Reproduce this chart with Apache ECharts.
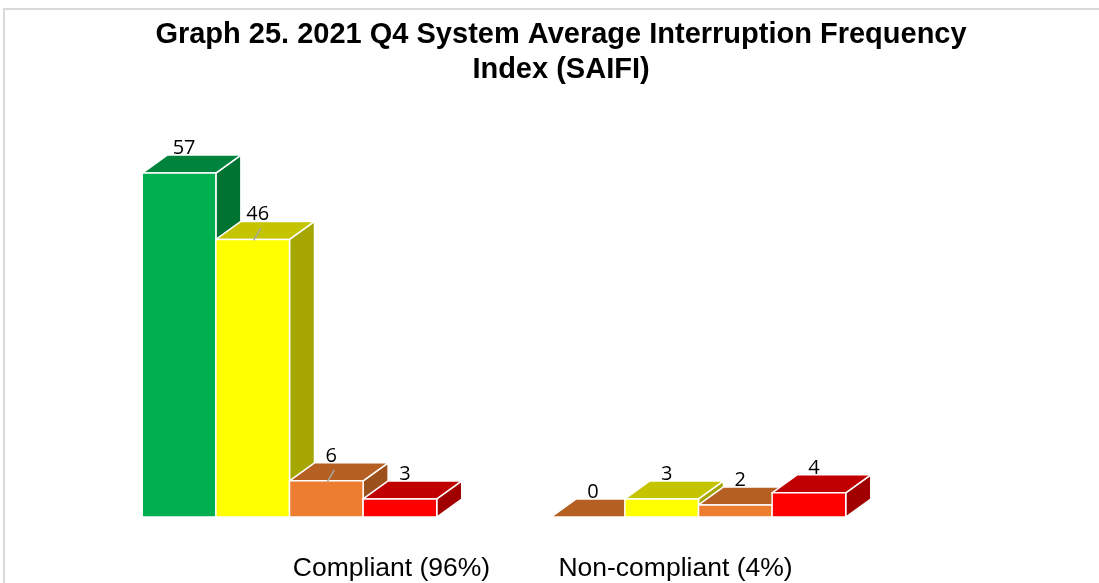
<!DOCTYPE html>
<html>
<head>
<meta charset="utf-8">
<script src="https://cdn.jsdelivr.net/npm/echarts@6/dist/echarts.min.js"></script>
<style>
  html, body { margin: 0; padding: 0; background: #fff; }
  #chart { width: 1099px; height: 583px; }
</style>
</head>
<body>
<div id="chart"></div>
<script>
// Chart data
var categories = ['Compliant (96%)', 'Non-compliant (4%)'];
var greenValues = [57, 0];
var yellowValues = [46, 3];
var orangeValues = [6, 2];
var redValues = [3, 4];
var seriesValues = [greenValues, yellowValues, orangeValues, redValues];

// points that get a short leader line to their label: [series, category]
var leaderPoints = [[1, 0], [2, 0]];

// face colours: front, top, side
var palette = [
  {front: '#00b050', top: '#00843d', side: '#007332'},
  {front: '#ffff00', top: '#c4c400', side: '#a6a600'},
  {front: '#ed7d31', top: '#b55f23', side: '#9c501c'},
  {front: '#ff0000', top: '#c00000', side: '#a00000'}
];
// the zero bar in the second group is painted like the orange series
var colorOverride = {'0-1': 2};

var DEPTH_X = 25, DEPTH_Y = -18;
var GROUP_SHARE = 0.72;

var chart = echarts.init(document.getElementById('chart'));

function makeRender(si) {
  return function (params, api) {
    var cat = api.value(0);
    var val = api.value(1);
    var base = api.coord([cat, 0]);
    var top = api.coord([cat, val]);
    var band = api.size([1, 0])[0];
    var n = seriesValues.length;
    var w = band * GROUP_SHARE / n;
    var x0 = base[0] - w * n / 2 + si * w;
    var x1 = x0 + w;
    var yb = base[1], yt = top[1];
    var key = si + '-' + cat;
    var c = palette[colorOverride[key] != null ? colorOverride[key] : si];
    var stroke = {stroke: '#ffffff', lineWidth: 1.5, lineJoin: 'round'};

    var children = [
      {type: 'polygon', shape: {points: [[x1, yb], [x1 + DEPTH_X, yb + DEPTH_Y], [x1 + DEPTH_X, yt + DEPTH_Y], [x1, yt]]},
        style: Object.assign({fill: c.side}, stroke)},
      {type: 'polygon', shape: {points: [[x0, yt], [x1, yt], [x1 + DEPTH_X, yt + DEPTH_Y], [x0 + DEPTH_X, yt + DEPTH_Y]]},
        style: Object.assign({fill: c.top}, stroke)}
    ];
    if (yb - yt > 0.5) {
      children.push({type: 'rect', shape: {x: x0, y: yt, width: w, height: yb - yt},
        style: Object.assign({fill: c.front}, stroke)});
    }
    var lx = (x0 + x1) / 2 + 5;
    var ly = yt + DEPTH_Y - 7;
    var hasLeader = leaderPoints.some(function (p) { return p[0] === si && p[1] === cat; });
    if (hasLeader) {
      children.push({type: 'line', shape: {x1: lx + 3, y1: ly + 14, x2: (x0 + x1) / 2 + 1, y2: yt + 1},
        style: {stroke: '#a6a6a6', lineWidth: 1.5}});
    }
    children.push({type: 'text', x: lx, y: ly,
      style: {text: String(val), fill: '#000', font: '20px "Open Sans", sans-serif',
        align: 'center', verticalAlign: 'middle'}});
    return {type: 'group', children: children};
  };
}

var series = seriesValues.map(function (vals, si) {
  return {
    type: 'custom',
    renderItem: makeRender(si),
    data: vals.map(function (v, ci) { return [ci, v]; }),
    encode: {x: 0, y: 1},
    clip: false
  };
});

var option = {
  backgroundColor: '#ffffff',
  animation: false,
  title: {
    text: 'Graph 25. 2021 Q4 System Average Interruption Frequency\nIndex (SAIFI)',
    left: 556,
    textAlign: 'center',
    top: 12,
    textStyle: {fontFamily: '"Liberation Sans", Arial, sans-serif', fontWeight: 'bold',
      fontSize: 29, lineHeight: 35, color: '#000'}
  },
  graphic: [{
    type: 'rect', shape: {x: 4, y: 9, width: 1120, height: 600},
    style: {fill: 'none', stroke: '#d9d9d9', lineWidth: 2}, silent: true
  }],
  grid: {left: 85, right: 196, top: 155, bottom: 66},
  xAxis: {
    type: 'category',
    data: categories,
    axisLine: {show: false},
    axisTick: {show: false},
    axisLabel: {
      margin: 38,
      formatter: function (v, i) { return i === 0 ? '{a|' + v + '}' : '{b|' + v + '}'; },
      rich: {
        a: {fontFamily: '"Liberation Sans", Arial, sans-serif', fontSize: 26.5, color: '#000', padding: [0, 0, 0, 204]},
        b: {fontFamily: '"Liberation Sans", Arial, sans-serif', fontSize: 26.5, color: '#000', padding: [0, 46, 0, 0]}
      }
    }
  },
  yAxis: {
    type: 'value', min: 0, max: 60,
    show: false, splitLine: {show: false}
  },
  series: series
};

chart.setOption(option);
</script>
</body>
</html>
